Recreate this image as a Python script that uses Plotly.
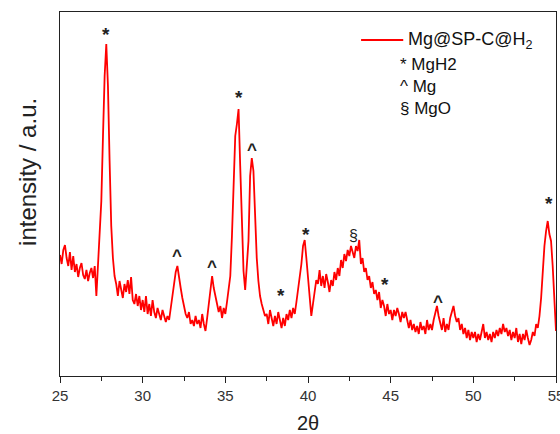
import plotly.graph_objects as go

two_theta = [round(25 + 0.1 * i, 1) for i in range(301)]

intensity = [
    121, 112, 126, 131, 118, 110, 124, 106, 120, 104,   # 25.0-25.9
    112, 99, 108, 113, 101, 97, 106, 95, 103, 108,      # 26.0-26.9
    98, 110, 80, 112, 135, 175, 240, 300, 332, 290,     # 27.0-27.9
    215, 150, 118, 100, 92, 80, 95, 88, 78, 92,         # 28.0-28.9
    84, 96, 82, 99, 76, 72, 82, 70, 80, 66,             # 29.0-29.9
    76, 64, 80, 62, 72, 60, 76, 64, 58, 68,             # 30.0-30.9
    62, 56, 66, 60, 54, 60, 56, 68, 80, 92,             # 31.0-31.9
    104, 110, 96, 88, 78, 70, 62, 58, 64, 52,           # 32.0-32.9
    56, 50, 60, 52, 56, 48, 62, 52, 45, 58,             # 33.0-33.9
    72, 90, 100, 88, 80, 72, 64, 70, 58, 68,            # 34.0-34.9
    62, 74, 85, 100, 140, 200, 240, 252, 267, 210,      # 35.0-35.9
    150, 105, 86, 110, 135, 200, 218, 205, 160, 118,    # 36.0-36.9
    95, 80, 72, 66, 60, 62, 52, 66, 56, 50,             # 37.0-37.9
    60, 52, 64, 54, 48, 58, 50, 62, 56, 66,             # 38.0-38.9
    58, 68, 62, 74, 85, 100, 112, 130, 136, 118,        # 39.0-39.9
    96, 75, 60, 72, 85, 96, 92, 106, 90, 100,           # 40.0-40.9
    88, 102, 94, 84, 96, 90, 104, 96, 108, 100,         # 41.0-41.9
    116, 108, 122, 115, 126, 120, 130, 124, 118, 130,   # 42.0-42.9
    125, 136, 112, 118, 104, 108, 96, 100, 88, 94,      # 43.0-43.9
    82, 86, 76, 84, 68, 76, 70, 60, 72, 62,             # 44.0-44.9
    66, 56, 66, 60, 68, 62, 54, 64, 58, 64,             # 45.0-45.9
    54, 48, 56, 46, 52, 44, 50, 42, 54, 46,             # 46.0-46.9
    50, 42, 56, 46, 52, 46, 56, 62, 70, 60,             # 47.0-47.9
    54, 46, 58, 44, 52, 46, 58, 64, 70, 60,             # 48.0-48.9
    54, 58, 46, 52, 42, 48, 38, 46, 36, 44,             # 49.0-49.9
    38, 44, 34, 42, 36, 44, 52, 38, 44, 36,             # 50.0-50.9
    42, 34, 44, 38, 46, 40, 48, 42, 52, 44,             # 51.0-51.9
    48, 40, 46, 36, 44, 38, 48, 34, 42, 32,             # 52.0-52.9
    42, 36, 46, 38, 31, 36, 44, 40, 52, 48,             # 53.0-53.9
    60, 78, 105, 130, 145, 155, 142, 135, 110, 75,      # 54.0-54.9
    45,                                                  # 55.0
]

x_ticks = [25, 30, 35, 40, 45, 50, 55]

peak_x = [27.8, 35.8, 36.6, 32.1, 34.2, 38.35, 39.85, 42.75, 44.65, 47.85, 54.55]
peak_y = [348, 285, 232, 126, 115, 87, 148, 141, 98, 80, 179]
peak_sym = ["*", "*", "^", "^", "^", "*", "*", "§", "*", "^", "*"]

series_name = "Mg@SP-C@H<sub>2</sub>"
phase_labels = ["* MgH2", "^ Mg", "§ MgO"]
y_title = "intensity / a.u."
x_title = "2θ"

FONT = "Arial, Liberation Sans, sans-serif"
INK = "#222222"

fig = go.Figure()
fig.add_trace(go.Scatter(
    x=two_theta, y=intensity, mode="lines",
    line=dict(color="#ff0000", width=1.8),
    name=series_name, showlegend=False,
))

for xs, ys, s in zip(peak_x, peak_y, peak_sym):
    if s == "*":
        txt, size, dy = "<b>*</b>", 19, -6
    elif s == "^":
        txt, size, dy = "<b>^</b>", 17, -5
    else:
        txt, size, dy = s, 16, 0
    fig.add_annotation(x=xs, y=ys + dy, text=txt, showarrow=False,
                       font=dict(family=FONT, size=size, color=INK),
                       xref="x", yref="y")

# legend (line sample + label)
fig.add_shape(type="line", xref="paper", yref="paper",
              x0=0.607, x1=0.692, y0=0.923, y1=0.923,
              line=dict(color="#ff0000", width=2))
fig.add_annotation(x=0.698, y=0.923, text=series_name, showarrow=False,
                   xref="paper", yref="paper", xanchor="left", yanchor="middle",
                   font=dict(family=FONT, size=18, color="#111"))

label_y = [0.857, 0.795, 0.736]
for t, yy in zip(phase_labels, label_y):
    fig.add_annotation(x=0.681, y=yy, text=t, showarrow=False,
                       xref="paper", yref="paper", xanchor="left", yanchor="middle",
                       font=dict(family=FONT, size=17, color="#111"))

# y-axis title (placed as rotated text, slightly above plot centre as in reference)
fig.add_annotation(x=-0.067, y=0.56, text=y_title, textangle=-90, showarrow=False,
                   xref="paper", yref="paper", xanchor="center", yanchor="middle",
                   font=dict(family=FONT, size=24, color=INK))

fig.update_layout(
    width=560, height=434,
    margin=dict(l=60, r=4, t=12, b=58),
    paper_bgcolor="white", plot_bgcolor="white",
    font=dict(family=FONT, size=15, color=INK),
    showlegend=False,
    xaxis=dict(
        range=[25, 55], tickvals=x_ticks, ticks="outside", ticklen=6,
        tickcolor=INK, showline=True, mirror=True, linecolor=INK, linewidth=1.2,
        showgrid=False, zeroline=False, ticklabeloverflow="allow", automargin=False,
        minor=dict(dtick=2.5, tick0=25, ticks="outside", ticklen=4, tickcolor=INK, showgrid=False),
        title=dict(text=x_title, font=dict(family=FONT, size=20, color=INK), standoff=16),
        tickfont=dict(family=FONT, size=15, color="#333"),
    ),
    yaxis=dict(
        range=[0, 364], showticklabels=False, ticks="", showline=True, mirror=True,
        linecolor=INK, linewidth=1.2, showgrid=False, zeroline=False, automargin=False,
    ),
)

fig.write_html("out.html")
